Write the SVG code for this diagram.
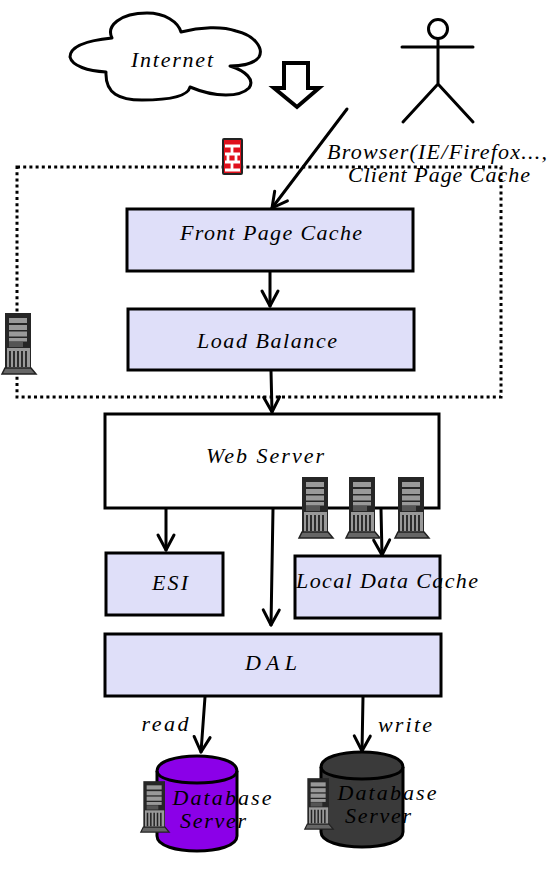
<svg xmlns="http://www.w3.org/2000/svg" width="547" height="876" viewBox="0 0 547 876">
<style>
.box{fill:#dfdff9;stroke:#000;stroke-width:3}
.wbox{fill:#fff;stroke:#000;stroke-width:3}
.line{fill:none;stroke:#000;stroke-width:3;stroke-linecap:round;stroke-linejoin:round}
.t{font-family:"Liberation Serif",serif;font-style:italic;font-size:22px;fill:#000;text-anchor:middle}
.db{stroke:#000;stroke-width:3}
</style>
<defs>
<marker id="arrow" markerUnits="userSpaceOnUse" markerWidth="24" markerHeight="24" refX="17" refY="10" orient="auto" overflow="visible">
<path d="M2 2 L17 10 L2 18" fill="none" stroke="#000" stroke-width="3" stroke-linecap="round" stroke-linejoin="round"/>
</marker>
<symbol id="server" viewBox="0 0 36 62" overflow="visible">
<rect x="4" y="0" width="26" height="56" fill="#262626"/>
<rect x="8" y="5" width="18" height="5" fill="#999"/>
<rect x="8" y="12" width="18" height="5" fill="#999"/>
<rect x="8" y="18.500" width="18" height="5" fill="#999"/>
<rect x="8" y="25" width="18" height="3.500" fill="#999"/>
<rect x="8" y="29" width="14" height="5" fill="#555"/>
<rect x="6" y="35" width="23" height="20" fill="#999"/>
<path d="M9 38V54M13 38V54M17 38V54M21 38V54M25 38V54" stroke="#222" stroke-width="1.800"/>
<path d="M4 55H30L35 61H1Z" fill="#666" stroke="#222" stroke-width="1.500"/>
</symbol>
</defs>
<rect width="547" height="876" fill="#fff"/>

<g id="dmz">
<rect x="17" y="167" width="484" height="230" fill="none" stroke="#000" stroke-width="3" stroke-dasharray="3 3.200"/>
</g>

<g id="internet">
<path class="line" fill="#fff" d="M112 38 C106 26 120 13 147 13 C165 13 178 22 181 32 C200 27 222 26 236 31 C254 35 264 48 259 57 C254 64 240 66 230 66 C246 71 255 80 249 88 C240 97 216 98 190 87 C188 96 172 100 142 100 C120 100 105 94 106 72 C88 71 72 66 70 57 C70 45 92 40 112 38Z"/>
<text class="t" x="172" y="67" textLength="82">Internet</text>
</g>

<g id="down-arrow">
<path d="M284 63H308V88H319L297 107L274 88H284Z" fill="#fff" stroke="#000" stroke-width="4" stroke-linejoin="miter"/>
</g>

<g id="browser">
<circle cx="438" cy="29" r="9.500" fill="#fff" stroke="#000" stroke-width="3"/>
<path class="line" d="M438 39V84M402 47H473M438 84L403 122M438 84L473 122"/>
<text class="t" x="437" y="159" textLength="220">Browser(IE/Firefox...,</text>
<text class="t" x="439" y="182" textLength="182">Client Page Cache</text>
</g>

<g id="firewall">
<rect x="223" y="139" width="19" height="35" rx="1" fill="#e0101c" stroke="#222" stroke-width="2"/>
<path d="M225 146H240M225 154H240M225 162H240M225 170H240M232 146V154M228 154V162M236 154V162M232 162V170" stroke="#fff" stroke-width="2.800" fill="none"/>
</g>

<g id="front-page-cache">
<rect class="box" x="127" y="209" width="286" height="62"/>
<text class="t" x="271" y="240" textLength="182">Front Page Cache</text>
</g>

<g id="load-balance">
<rect class="box" x="128" y="309" width="286" height="61"/>
<text class="t" x="267" y="348" textLength="140">Load Balance</text>
</g>

<g id="web-server">
<rect class="wbox" x="105" y="414" width="334" height="94"/>
<text class="t" x="265" y="463" textLength="118">Web Server</text>
</g>

<g id="esi">
<rect class="box" x="106" y="553" width="117" height="62"/>
<text class="t" x="170" y="590" textLength="36">ESI</text>
</g>

<g id="local-data-cache">
<rect class="box" x="295" y="556" width="145" height="62"/>
<text class="t" x="387" y="588" textLength="182">Local Data Cache</text>
</g>

<g id="dal">
<rect class="box" x="105" y="634" width="336" height="62"/>
<text class="t" x="271" y="670" textLength="52">DAL</text>
</g>

<g id="database-1">
<path class="db" d="M157 771C157 751 237 751 237 771V836C237 856 157 856 157 836Z" fill="#8b00e8"/>
<path class="db" d="M157 771C157 787 237 787 237 771" fill="none"/>
<text class="t" x="222" y="805" textLength="99">Database</text>
<text class="t" x="213" y="828" textLength="66">Server</text>
</g>

<g id="database-2">
<path class="db" d="M321 767C321 747 403 747 403 767V832C403 852 321 852 321 832Z" fill="#3a3a3a"/>
<path class="db" d="M321 767C321 783 403 783 403 767" fill="none"/>
<text class="t" x="387" y="800" textLength="99">Database</text>
<text class="t" x="378" y="823" textLength="66">Server</text>
</g>

<g id="connectors">
<path class="line" d="M347 109L272 208" marker-end="url(#arrow)"/>
<path class="line" d="M270 272V306" marker-end="url(#arrow)"/>
<path class="line" d="M271 371L272 412" marker-end="url(#arrow)"/>
<path class="line" d="M166 509V550" marker-end="url(#arrow)"/>
<path class="line" d="M381 509L382 555" marker-end="url(#arrow)"/>
<path class="line" d="M273 509L271 625" marker-end="url(#arrow)"/>
<path class="line" d="M205 697L201 752" marker-end="url(#arrow)"/>
<path class="line" d="M363 697L362 751" marker-end="url(#arrow)"/>
<text class="t" x="165" y="731" textLength="47">read</text>
<text class="t" x="405" y="732" textLength="54">write</text>
</g>

<g id="server-dmz"><use href="#server" x="1" y="313" width="36" height="62"/></g>
<g id="server-web-1"><use href="#server" x="298" y="477" width="36" height="62"/></g>
<g id="server-web-2"><use href="#server" x="345" y="477" width="36" height="62"/></g>
<g id="server-web-3"><use href="#server" x="394" y="477" width="36" height="62"/></g>
<g id="server-db-1"><use href="#server" x="140" y="780" width="30" height="54"/></g>
<g id="server-db-2"><use href="#server" x="304" y="777" width="30" height="54"/></g>
</svg>
